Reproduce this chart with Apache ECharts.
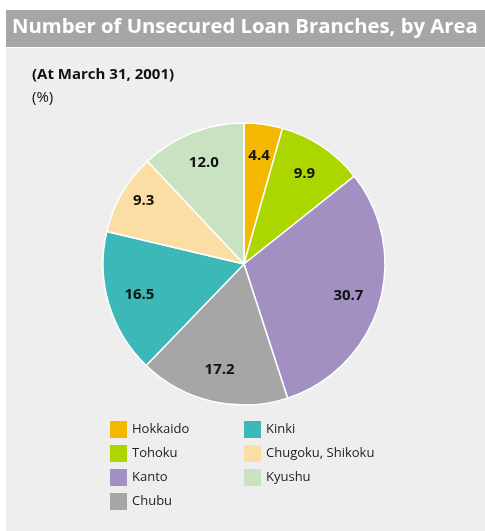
<!DOCTYPE html>
<html>
<head>
<meta charset="utf-8">
<script src="https://cdn.jsdelivr.net/npm/echarts@6/dist/echarts.min.js"></script>
<style>
  html, body { margin: 0; padding: 0; background: #ffffff; }
  #chart { width: 485px; height: 531px; }
</style>
</head>
<body>
<div id="chart"></div>
<script>
  // data
  var areas = ['Hokkaido', 'Tohoku', 'Kanto', 'Chubu', 'Kinki', 'Chugoku, Shikoku', 'Kyushu'];
  var shares = [4.4, 9.9, 30.7, 17.2, 16.5, 9.3, 12.0];
  var colors = ['#f2b900', '#acd600', '#a390c2', '#a6a6a6', '#3bb8b7', '#fbdea3', '#c9e3c2'];

  var font = '"Open Sans", "Noto Sans", sans-serif';

  var myChart = echarts.init(document.getElementById('chart'));

  var pieData = areas.map(function (name, i) {
    return { name: name, value: shares[i], itemStyle: { color: colors[i] } };
  });

  // label ring (transparent), labels sit at the middle of the ring
  var labelData = areas.map(function (name, i) {
    var item = { name: name + ' ', value: shares[i] };
    if (name === 'Chugoku, Shikoku') {
      item.label = { offset: [-6, -9] };
    }
    return item;
  });

  var legendText = { color: '#222222', fontSize: 13, fontFamily: font };

  var option = {
    backgroundColor: '#ffffff',
    animation: false,
    graphic: [
      { type: 'rect', shape: { x: 6, y: 48, width: 479, height: 483 }, style: { fill: '#eeeeee' }, z: -10 },
      { type: 'rect', shape: { x: 6, y: 10, width: 479, height: 37 }, style: { fill: '#a6a6a6' }, z: -10 }
    ],
    title: [
      {
        text: 'Number of Unsecured Loan Branches, by Area',
        left: 12, top: 17, padding: 0,
        textStyle: { color: '#ffffff', fontSize: 20.3, fontWeight: 'bold', fontFamily: font }
      },
      {
        text: '(At March 31, 2001)',
        left: 32, top: 67, padding: 0,
        textStyle: { color: '#111111', fontSize: 15, fontWeight: 'bold', fontFamily: font }
      },
      {
        text: '(%)',
        left: 32, top: 90, padding: 0,
        textStyle: { color: '#111111', fontSize: 15, fontWeight: 'normal', fontFamily: font }
      }
    ],
    legend: [
      {
        data: areas.slice(0, 4),
        orient: 'vertical',
        left: 110, top: 421, padding: 0,
        itemWidth: 17, itemHeight: 17, itemGap: 7,
        icon: 'rect',
        itemStyle: { borderWidth: 0 },
        textStyle: legendText,
        selectedMode: false
      },
      {
        data: areas.slice(4),
        orient: 'vertical',
        left: 244, top: 421, padding: 0,
        itemWidth: 17, itemHeight: 17, itemGap: 7,
        icon: 'rect',
        itemStyle: { borderWidth: 0 },
        textStyle: legendText,
        selectedMode: false
      }
    ],
    series: [
      {
        name: 'Area',
        type: 'pie',
        center: [244, 264],
        radius: [0, 141],
        startAngle: 90,
        clockwise: true,
        label: { show: false },
        labelLine: { show: false },
        itemStyle: { borderColor: '#ffffff', borderWidth: 1.5 },
        emphasis: { disabled: true },
        data: pieData
      },
      {
        name: 'Labels',
        type: 'pie',
        center: [244, 264],
        radius: [70, 142],
        startAngle: 90,
        clockwise: true,
        silent: true,
        legendHoverLink: false,
        itemStyle: { color: 'rgba(0,0,0,0)' },
        label: {
          show: true,
          position: 'inner',
          color: '#111111',
          fontSize: 15,
          fontWeight: 'bold',
          fontFamily: font,
          formatter: function (p) { return p.value.toFixed(1); }
        },
        labelLine: { show: false },
        emphasis: { disabled: true },
        data: labelData
      }
    ]
  };

  myChart.setOption(option);
</script>
</body>
</html>
